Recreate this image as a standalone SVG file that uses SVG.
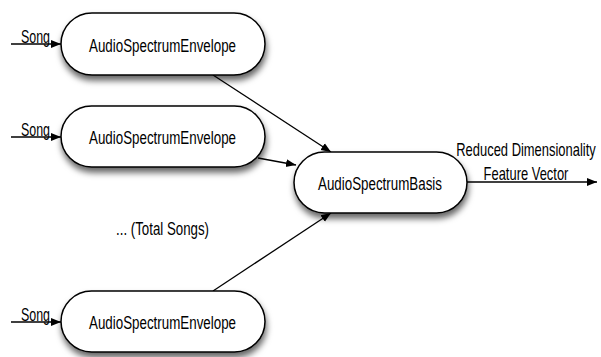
<svg xmlns="http://www.w3.org/2000/svg" width="601" height="357" viewBox="0 0 601 357">
<defs>
<filter id="sh" x="-20%" y="-30%" width="140%" height="170%">
<feDropShadow dx="1" dy="5" stdDeviation="3" flood-color="#000" flood-opacity="0.6"/>
</filter>
<marker id="ah" viewBox="0 0 10 10" refX="10" refY="5" markerWidth="10" markerHeight="10" markerUnits="userSpaceOnUse" orient="auto">
<path d="M0,1 L10,5 L0,9 Z" fill="#000"/>
</marker>
<style>
.node{fill:#fff;stroke:#000;stroke-width:1.5;filter:url(#sh)}
.lbl{font-family:"Liberation Sans",Arial,sans-serif;font-size:17.5px;fill:#000}
.c{stroke:#000;stroke-width:1.3;fill:none;marker-end:url(#ah)}
</style>
</defs>
<g id="connectors">
<line class="c" x1="11" y1="44" x2="61" y2="44"/>
<line class="c" x1="11" y1="137" x2="61" y2="137"/>
<line class="c" x1="11" y1="322" x2="61" y2="322"/>
<line class="c" x1="213" y1="75" x2="331" y2="152"/>
<line class="c" x1="258" y1="158" x2="296" y2="165"/>
<line class="c" x1="213" y1="291" x2="331" y2="213"/>
<line class="c" x1="467" y1="182" x2="597" y2="182"/>
</g>
<g id="labels">
<text class="lbl" x="21" y="43" textLength="29" lengthAdjust="spacingAndGlyphs">Song</text>
<text class="lbl" x="21" y="136" textLength="29" lengthAdjust="spacingAndGlyphs">Song</text>
<text class="lbl" x="21" y="321" textLength="29" lengthAdjust="spacingAndGlyphs">Song</text>
<text class="lbl" transform="translate(526,156) scale(0.74,1)" text-anchor="middle">Reduced Dimensionality</text>
<text class="lbl" transform="translate(526,179.5) scale(0.74,1)" text-anchor="middle">Feature Vector</text>
<text class="lbl" x="116" y="235" textLength="93" lengthAdjust="spacingAndGlyphs">... (Total Songs)</text>
</g>
<g id="env1">
<rect class="node" x="61" y="13" width="204" height="62" rx="31" ry="31"/>
<text class="lbl" x="89" y="51.5" textLength="147" lengthAdjust="spacingAndGlyphs">AudioSpectrumEnvelope</text>
</g>
<g id="env2">
<rect class="node" x="61" y="106" width="204" height="61" rx="30.5" ry="30.5"/>
<text class="lbl" x="89" y="144" textLength="147" lengthAdjust="spacingAndGlyphs">AudioSpectrumEnvelope</text>
</g>
<g id="env3">
<rect class="node" x="61" y="291" width="204" height="61" rx="30.5" ry="30.5"/>
<text class="lbl" x="89" y="329" textLength="147" lengthAdjust="spacingAndGlyphs">AudioSpectrumEnvelope</text>
</g>
<g id="basis">
<rect class="node" x="294" y="152" width="173" height="61" rx="30.5" ry="30.5"/>
<text class="lbl" x="318" y="190" textLength="124" lengthAdjust="spacingAndGlyphs">AudioSpectrumBasis</text>
</g>
</svg>
